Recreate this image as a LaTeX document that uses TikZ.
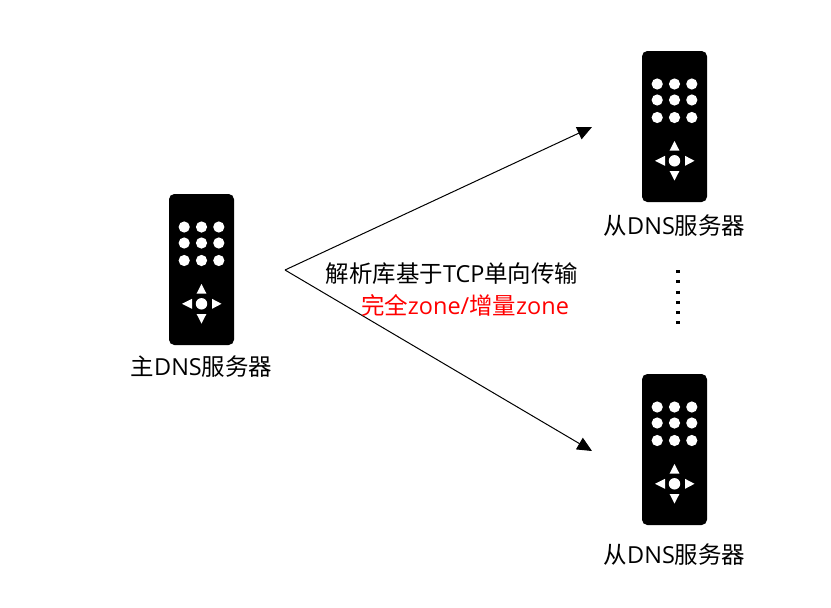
\documentclass[tikz,border=0pt]{standalone}
\usepackage{fontspec}
\setmainfont{Open Sans}
\newfontfamily\cjk{Noto Sans CJK SC}
\usetikzlibrary{arrows.meta,positioning}
\definecolor{cnote}{RGB}{255,0,0}
\tikzset{
  srvlabel/.style={font=\fontsize{17.6pt}{21pt}\selectfont, text=black, inner sep=0pt},
  flow/.style={black, line width=0.75pt, -{Triangle[length=11pt,width=10pt]}},
  remotebody/.style={fill=black, rounded corners=4pt, minimum width=48.75pt, minimum height=113.25pt, inner sep=0pt},
  pics/remote/.style={code={
    \node[remotebody] (-body) at (0,0) {};
    \foreach \dx in {-17.3,0,17.3}
      \foreach \dy in {-42.5,-26.5,-9}
        \fill[white] (\dx,\dy) circle (4.2pt);
    \fill[white] (0,34.3) circle (4.3pt);
    \fill[white] (0,14.5) -- (-4.9,24) -- (4.9,24) -- cycle;
    \fill[white] (0,54) -- (-4.9,44.5) -- (4.9,44.5) -- cycle;
    \fill[white] (-19.5,34.3) -- (-9.5,29.3) -- (-9.5,39.3) -- cycle;
    \fill[white] (20,34.3) -- (10.5,29.3) -- (10.5,39.3) -- cycle;
  }}
}
\begin{document}
\begin{tikzpicture}[x=0.75pt,y=-0.75pt]
  \useasboundingbox (0,0) rectangle (831,607);
  \pic (master) at (201.5,269.5) {remote};
  \pic (slaveA) at (674.5,126.5) {remote};
  \pic (slaveB) at (674.5,449.5) {remote};
  \node[srvlabel, below=8pt of master-body] (masterlabel) {{\cjk 主}DNS{\cjk 服务器}};
  \node[srvlabel, below=9pt of slaveA-body] (slaveAlabel) {{\cjk 从}DNS{\cjk 服务器}};
  \node[srvlabel, below=14pt of slaveB-body] (slaveBlabel) {{\cjk 从}DNS{\cjk 服务器}};
  % fork
  \coordinate (forkstart) at (285,270);
  \coordinate (forktop) at (592,127);
  \coordinate (forkbottom) at (592,451);
  \draw[flow] (forkstart) -- (forktop);
  \draw[flow] (forkstart) -- (forkbottom);
  \node[srvlabel] (synctext) at (452,274) {{\cjk 解析库基于}TCP{\cjk 单向传输}};
  \node[srvlabel, text=cnote] (synczone) at (465,305) {{\cjk 完全}zone/{\cjk 增量}zone};
  % more servers
  \coordinate (moretop) at (678,270);
  \coordinate (morebottom) at (678,325);
  \draw[line width=2.3pt, dash pattern=on 2.3pt off 5.4pt] (moretop) -- (morebottom);
\end{tikzpicture}
\end{document}
